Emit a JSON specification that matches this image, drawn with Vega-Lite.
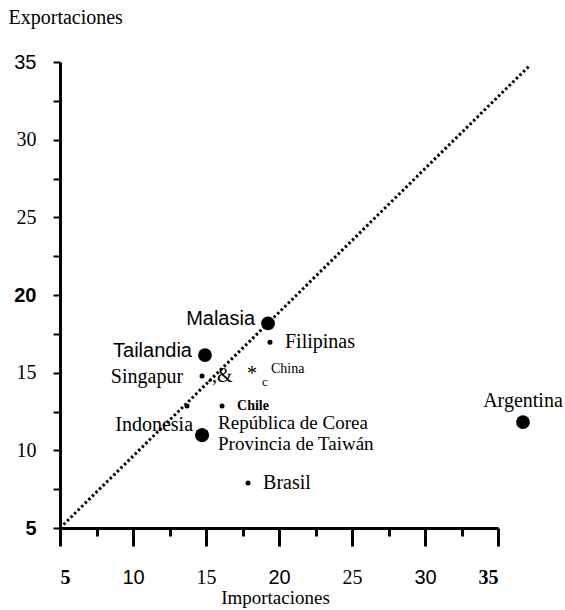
{
  "$schema": "https://vega.github.io/schema/vega-lite/v6.json",
  "width": 438,
  "height": 466,
  "autosize": {"type": "none"},
  "padding": {"left": 60, "top": 62, "right": 67, "bottom": 82},
  "background": "white",
  "config": {
    "view": {"stroke": null},
    "axis": {"grid": false, "domainColor": "black", "tickColor": "black", "labelColor": "black", "titleColor": "black"}
  },
  "datasets": {
    "paises": [
      {"pais": "Malasia", "importaciones": 19.25, "exportaciones": 18.18, "tipo": "grande"},
      {"pais": "Tailandia", "importaciones": 14.93, "exportaciones": 16.13, "tipo": "grande"},
      {"pais": "Singapur", "importaciones": 14.73, "exportaciones": 14.78, "tipo": "pequeño"},
      {"pais": "Filipinas", "importaciones": 19.38, "exportaciones": 16.96, "tipo": "pequeño"},
      {"pais": "China", "importaciones": 18.15, "exportaciones": 15.03, "tipo": "asterisco"},
      {"pais": "Chile", "importaciones": 16.1, "exportaciones": 12.85, "tipo": "pequeño"},
      {"pais": "Indonesia", "importaciones": 13.7, "exportaciones": 12.85, "tipo": "pequeño"},
      {"pais": "República de Corea", "importaciones": 14.73, "exportaciones": 10.98, "tipo": "grande"},
      {"pais": "Provincia de Taiwán", "importaciones": 14.73, "exportaciones": 10.98, "tipo": "grande"},
      {"pais": "Brasil", "importaciones": 17.88, "exportaciones": 7.89, "tipo": "pequeño"},
      {"pais": "Argentina", "importaciones": 36.71, "exportaciones": 11.82, "tipo": "grande"}
    ],
    "diagonal": [
      {"importaciones": 5, "exportaciones": 5},
      {"importaciones": 37.2, "exportaciones": 34.8}
    ]
  },
  "encoding": {
    "x": {
      "field": "importaciones",
      "type": "quantitative",
      "scale": {"domain": [5, 35], "nice": false, "zero": false},
      "axis": {
        "values": [5, 7.5, 10, 12.5, 15, 17.5, 20, 22.5, 25, 27.5, 30, 32.5, 35],
        "labelExpr": "datum.value % 5 == 0 ? datum.label : ''",
        "domainWidth": 3,
        "tickWidth": 3,
        "tickSize": {"condition": {"test": "datum.value % 5 == 0", "value": 18}, "value": 8},
        "labelPadding": 21,
        "labelFontSize": 20,
        "labelFont": {"condition": {"test": "datum.value == 10 || datum.value == 20 || datum.value == 30", "value": "Liberation Sans"}, "value": "Liberation Serif"},
        "labelFontWeight": {"condition": {"test": "datum.value == 5 || datum.value == 35", "value": "bold"}, "value": "normal"},
        "title": "Importaciones",
        "titleFont": "Liberation Serif",
        "titleFontSize": 19,
        "titleFontWeight": "normal",
        "titleX": 215,
        "titleY": 75,
        "titleAlign": "center",
        "titleBaseline": "alphabetic"
      }
    },
    "y": {
      "field": "exportaciones",
      "type": "quantitative",
      "scale": {"domain": [5, 35], "nice": false, "zero": false},
      "axis": {
        "values": [5, 7.5, 10, 12.5, 15, 17.5, 20, 22.5, 25, 27.5, 30, 32.5, 35],
        "labelExpr": "datum.value % 5 == 0 ? datum.label : ''",
        "domainWidth": 3,
        "tickWidth": 2,
        "tickSize": 7,
        "labelPadding": 17,
        "labelFontSize": 20,
        "labelFont": {"condition": {"test": "datum.value == 35 || datum.value == 20 || datum.value == 5", "value": "Liberation Sans"}, "value": "Liberation Serif"},
        "labelFontWeight": {"condition": {"test": "datum.value == 20 || datum.value == 5", "value": "bold"}, "value": "normal"},
        "title": "Exportaciones",
        "titleAngle": 0,
        "titleFont": "Liberation Serif",
        "titleFontSize": 20,
        "titleFontWeight": "normal",
        "titleX": -52,
        "titleY": -39,
        "titleAlign": "left",
        "titleBaseline": "alphabetic"
      }
    }
  },
  "layer": [
    {
      "data": {"name": "diagonal"},
      "mark": {"type": "line", "color": "black", "strokeWidth": 3, "strokeDash": [2.5, 2.5], "strokeCap": "butt"}
    },
    {
      "data": {"name": "paises"},
      "transform": [{"filter": "datum.tipo != 'asterisco'"}],
      "mark": {"type": "point", "filled": true, "color": "black", "opacity": 1},
      "encoding": {
        "size": {"field": "tipo", "type": "nominal", "scale": {"domain": ["grande", "pequeño"], "range": [190, 25]}, "legend": null}
      }
    },
    {
      "data": {"name": "paises"},
      "transform": [{"filter": {"field": "pais", "oneOf": ["Malasia", "Tailandia"]}}],
      "mark": {"type": "text", "align": "right", "baseline": "middle", "dx": -13, "dy": -4, "font": "Liberation Sans", "fontSize": 20, "color": "black"},
      "encoding": {"text": {"field": "pais"}}
    },
    {
      "data": {"name": "paises"},
      "transform": [{"filter": {"field": "pais", "equal": "Singapur"}}],
      "mark": {"type": "text", "align": "right", "baseline": "middle", "dx": -19, "dy": 1, "font": "Liberation Serif", "fontSize": 20, "color": "black"},
      "encoding": {"text": {"field": "pais"}}
    },
    {
      "data": {"name": "paises"},
      "transform": [{"filter": {"field": "pais", "equal": "Singapur"}}],
      "mark": {"type": "text", "align": "left", "baseline": "middle", "dx": 5, "dy": 0, "font": "Liberation Serif", "fontSize": 20, "color": "black", "text": ".,&"}
    },
    {
      "data": {"name": "paises"},
      "transform": [{"filter": {"field": "pais", "equal": "Indonesia"}}],
      "mark": {"type": "text", "align": "right", "baseline": "middle", "dx": 6, "dy": 19, "font": "Liberation Serif", "fontSize": 20, "color": "black"},
      "encoding": {"text": {"field": "pais"}}
    },
    {
      "data": {"name": "paises"},
      "transform": [{"filter": {"field": "pais", "oneOf": ["Filipinas", "Brasil"]}}],
      "mark": {"type": "text", "align": "left", "baseline": "middle", "dx": 15, "dy": 0, "font": "Liberation Serif", "fontSize": 20, "color": "black"},
      "encoding": {"text": {"field": "pais"}}
    },
    {
      "data": {"name": "paises"},
      "transform": [{"filter": {"field": "pais", "equal": "Chile"}}],
      "mark": {"type": "text", "align": "left", "baseline": "middle", "dx": 15, "dy": 0, "font": "Liberation Serif", "fontSize": 14, "fontWeight": "bold", "color": "black"},
      "encoding": {"text": {"field": "pais"}}
    },
    {
      "data": {"name": "paises"},
      "transform": [{"filter": {"field": "pais", "equal": "República de Corea"}}],
      "mark": {"type": "text", "align": "left", "baseline": "middle", "dx": 16, "dy": -12, "font": "Liberation Serif", "fontSize": 19, "color": "black"},
      "encoding": {"text": {"field": "pais"}}
    },
    {
      "data": {"name": "paises"},
      "transform": [{"filter": {"field": "pais", "equal": "Provincia de Taiwán"}}],
      "mark": {"type": "text", "align": "left", "baseline": "middle", "dx": 16, "dy": 9, "font": "Liberation Serif", "fontSize": 19, "color": "black"},
      "encoding": {"text": {"field": "pais"}}
    },
    {
      "data": {"name": "paises"},
      "transform": [{"filter": {"field": "pais", "equal": "Argentina"}}],
      "mark": {"type": "text", "align": "center", "baseline": "middle", "dy": -21, "font": "Liberation Serif", "fontSize": 20, "color": "black"},
      "encoding": {"text": {"field": "pais"}}
    },
    {
      "data": {"name": "paises"},
      "transform": [{"filter": {"field": "pais", "equal": "China"}}],
      "mark": {"type": "text", "align": "center", "baseline": "middle", "dy": 2, "font": "Liberation Serif", "fontSize": 20, "color": "black", "text": "*"}
    },
    {
      "data": {"name": "paises"},
      "transform": [{"filter": {"field": "pais", "equal": "China"}}],
      "mark": {"type": "text", "align": "center", "baseline": "middle", "dx": 13, "dy": 10, "font": "Liberation Serif", "fontSize": 13, "color": "black", "text": "c"}
    },
    {
      "data": {"name": "paises"},
      "transform": [{"filter": {"field": "pais", "equal": "China"}}],
      "mark": {"type": "text", "align": "left", "baseline": "middle", "dx": 19, "dy": -3, "font": "Liberation Serif", "fontSize": 14, "color": "black"},
      "encoding": {"text": {"field": "pais"}}
    }
  ]
}
